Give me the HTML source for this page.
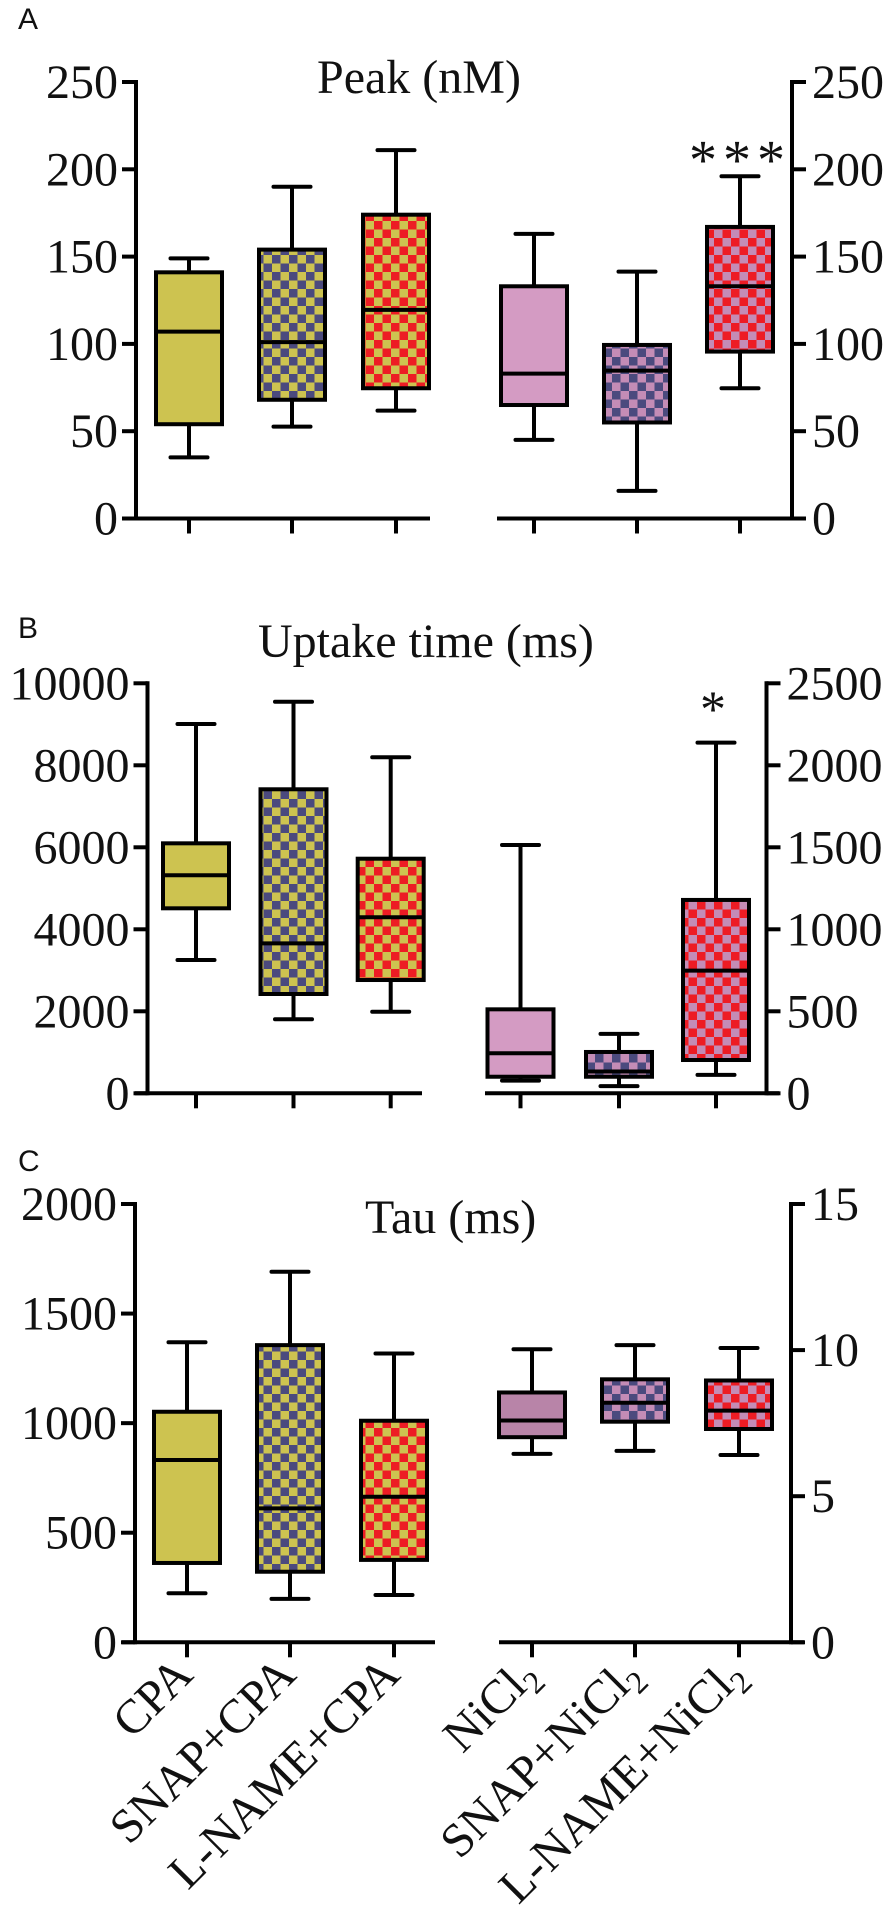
<!DOCTYPE html>
<html><head><meta charset="utf-8"><style>
html,body{margin:0;padding:0;background:#fff;}
svg{display:block;}
text{font-family:"Liberation Serif",serif;fill:#111;}
.pl{font-family:"Liberation Sans",sans-serif;font-size:30px;}
</style></head><body>
<svg id="fig" width="892" height="1922" viewBox="0 0 892 1922" xmlns="http://www.w3.org/2000/svg">
<defs>
<pattern id="pYN" patternUnits="userSpaceOnUse" width="17" height="17"><rect width="17" height="17" fill="#CDC350"/><rect width="8.5" height="8.5" fill="#4B4A7E"/><rect x="8.5" y="8.5" width="8.5" height="8.5" fill="#4B4A7E"/></pattern>
<pattern id="pYR" patternUnits="userSpaceOnUse" width="17" height="17"><rect width="17" height="17" fill="#CDC350"/><rect width="8.5" height="8.5" fill="#ED1C24"/><rect x="8.5" y="8.5" width="8.5" height="8.5" fill="#ED1C24"/></pattern>
<pattern id="pPN" patternUnits="userSpaceOnUse" width="17" height="17"><rect width="17" height="17" fill="#C48CB6"/><rect width="8.5" height="8.5" fill="#4B4A7E"/><rect x="8.5" y="8.5" width="8.5" height="8.5" fill="#4B4A7E"/></pattern>
<pattern id="pPR" patternUnits="userSpaceOnUse" width="17" height="17"><rect width="17" height="17" fill="#C48CB6"/><rect width="8.5" height="8.5" fill="#ED1C24"/><rect x="8.5" y="8.5" width="8.5" height="8.5" fill="#ED1C24"/></pattern>
</defs>
<g id="root"></g>
</svg>
<script>
const groups = ["CPA","SNAP+CPA","L-NAME+CPA","NiCl2","SNAP+NiCl2","L-NAME+NiCl2"];
const peakMin = [35,52.6,61.8,45,15.8,74.6];
const peakQ1 = [54,68,74.6,65,55,95.6];
const peakMed = [107,101,119.5,83,84.7,133];
const peakQ3 = [141,154,174,133,99.4,167];
const peakMax = [149,190,211,163,141.4,196];
const upMin = [3251,1805,1990,77,44,112];
const upQ1 = [4512,2422,2763,101,101,203];
const upMed = [5317,3658,4293,244,133,748];
const upQ3 = [6097,7415,5722,512,252,1179];
const upMax = [9007,9551,8195,1514,362,2138];
const tauMin = [224,198,216,6.45,6.55,6.41];
const tauQ1 = [362,322,376,7.02,7.55,7.3];
const tauMed = [832,611,664,7.59,8.2,7.93];
const tauQ3 = [1052,1356,1011,8.55,9.0,8.96];
const tauMax = [1369,1691,1318,10.03,10.17,10.07];
const peakLeftTicks = [0,50,100,150,200,250];
const peakRightTicks = [0,50,100,150,200,250];
const upLeftTicks = [0,2000,4000,6000,8000,10000];
const upRightTicks = [0,500,1000,1500,2000,2500];
const tauLeftTicks = [0,500,1000,1500,2000];
const tauRightTicks = [0,5,10,15];
const peakSig = ["","","","","","***"];
const upSig = ["","","","","","*"];

const NS="http://www.w3.org/2000/svg";
const root=document.getElementById('root');
function mk(tag,attrs,parent){const e=document.createElementNS(NS,tag);for(const k in attrs)e.setAttribute(k,attrs[k]);(parent||root).appendChild(e);return e;}

const panels=[
 {key:"peak",letter:"A",letterY:29,title:"Peak (nM)",titleX:317,titleY:93,lx:136,rx:792,top:82,zero:518.5,lmax:250,rmax:250,
  lt:peakLeftTicks,rt:peakRightTicks,centers:[189,292,396,534,637,740],xl:[123,430],xr:[497,805],
  d:[peakMin,peakQ1,peakMed,peakQ3,peakMax],sig:peakSig,sigOff:-2,sigSize:56,pink:"#D49BC3"},
 {key:"uptake",letter:"B",letterY:638,title:"Uptake time (ms)",titleX:258,titleY:657,lx:147.5,rx:766.5,top:683.3,zero:1093.3,lmax:10000,rmax:2500,
  lt:upLeftTicks,rt:upRightTicks,centers:[196,293.5,390.7,520.5,619,716],xl:[135,422],xr:[485,779],
  d:[upMin,upQ1,upMed,upQ3,upMax],sig:upSig,sigOff:16,sigSize:52,pink:"#D49BC3"},
 {key:"tau",letter:"C",letterY:1171,title:"Tau (ms)",titleX:365,titleY:1233,lx:135,rx:791,top:1204,zero:1642.3,lmax:2000,rmax:15,
  lt:tauLeftTicks,rt:tauRightTicks,centers:[187,290,394,532,635,739],xl:[122,435],xr:[499,804],
  d:[tauMin,tauQ1,tauMed,tauQ3,tauMax],sig:["","","","","",""],sigOff:16,sigSize:48,pink:"#B884A8"}
];
const fillsBase=["#CDC350","url(#pYN)","url(#pYR)",null,"url(#pPN)","url(#pPR)"];
const BW=66, CW=37, SW=4;

panels.forEach((p,pi)=>{
  const g=mk('g',{});
  
  
  const yL=v=>p.zero-(p.zero-p.top)*v/p.lmax;
  const yR=v=>p.zero-(p.zero-p.top)*v/p.rmax;
  const lt=mk('text',{x:18,y:p.letterY,class:'pl'},g); lt.textContent=p.letter;
  
  
  const tt=mk('text',{x:p.titleX,y:p.titleY,'font-size':48},g); tt.textContent=p.title;
  
  
  const la=mk('line',{x1:p.lx,y1:p.top-2,x2:p.lx,y2:p.zero+2,stroke:'#000','stroke-width':SW},g);
  
  
  p.lt.forEach(v=>{
    const y=yL(v);
    mk('line',{x1:p.lx-14,y1:y,x2:p.lx,y2:y,stroke:'#000','stroke-width':SW},g);
    const t=mk('text',{x:p.lx-18,y:y+16,'font-size':48,'text-anchor':'end'},g); t.textContent=v;
    
    
  });
  const ra=mk('line',{x1:p.rx,y1:p.top-2,x2:p.rx,y2:p.zero+2,stroke:'#000','stroke-width':SW},g);
  
  
  p.rt.forEach(v=>{
    const y=yR(v);
    mk('line',{x1:p.rx,y1:y,x2:p.rx+14,y2:y,stroke:'#000','stroke-width':SW},g);
    const t=mk('text',{x:p.rx+20,y:y+16,'font-size':48},g); t.textContent=v;
    
    
  });
  const xa1=mk('line',{x1:p.xl[0],y1:p.zero,x2:p.xl[1],y2:p.zero,stroke:'#000','stroke-width':SW},g);
  
  
  const xa2=mk('line',{x1:p.xr[0],y1:p.zero,x2:p.xr[1],y2:p.zero,stroke:'#000','stroke-width':SW},g);
  
  
  p.centers.forEach(c=>mk('line',{x1:c,y1:p.zero,x2:c,y2:p.zero+15,stroke:'#000','stroke-width':SW},g));
  groups.forEach((name,i)=>{
    const ys=i<3?yL:yR;
    const c=p.centers[i];
    const [mn,q1,md,q3,mx]=p.d.map(a=>ys(a[i]));
    const bg=mk('g',{},g);
    
    
    mk('line',{x1:c,y1:mx,x2:c,y2:q3,stroke:'#000','stroke-width':SW},bg);
    mk('line',{x1:c,y1:q1,x2:c,y2:mn,stroke:'#000','stroke-width':SW},bg);
    mk('line',{x1:c-CW/2,y1:mx,x2:c+CW/2,y2:mx,stroke:'#000','stroke-width':SW,'stroke-linecap':'round'},bg);
    mk('line',{x1:c-CW/2,y1:mn,x2:c+CW/2,y2:mn,stroke:'#000','stroke-width':SW,'stroke-linecap':'round'},bg);
    const f=fillsBase[i]||p.pink;
    mk('rect',{x:c-BW/2,y:q3,width:BW,height:q1-q3,fill:f,stroke:'#000','stroke-width':SW},bg);
    mk('line',{x1:c-BW/2,y1:md,x2:c+BW/2,y2:md,stroke:'#000','stroke-width':SW},bg);
    if(p.sig[i]){
      const s=mk('text',{x:c,y:mx-p.sigOff,'font-size':p.sigSize,'text-anchor':'middle','letter-spacing':'6'},g);
      s.textContent=p.sig[i];
      
      
    }
  });
  if(pi===2){
    groups.forEach((name,i)=>{
      const c=p.centers[i];
      const t=mk('text',{x:c+8,y:1677,'font-size':48,'text-anchor':'end',transform:`rotate(-45 ${c+8} 1677)`},g);
      
      
      if(name.endsWith('NiCl2')){
        const a=mk('tspan',{},t); a.textContent=name.slice(0,-1);
        const b=mk('tspan',{'font-size':32,dy:10},t); b.textContent='2';
      } else t.textContent=name;
    });
  }
});
</script>
</body></html>
